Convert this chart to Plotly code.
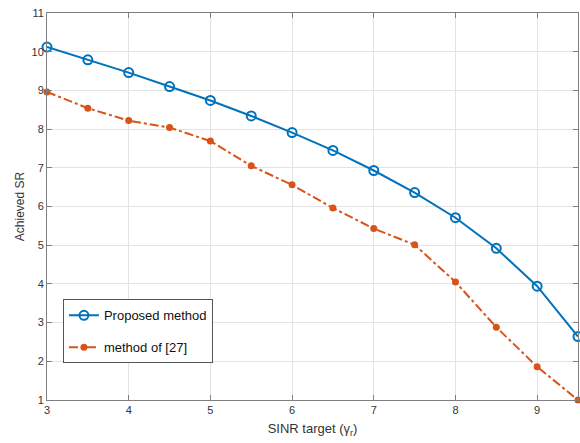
import plotly.graph_objects as go

x_vals = [3, 3.5, 4, 4.5, 5, 5.5, 6, 6.5, 7, 7.5, 8, 8.5, 9, 9.5]
proposed = [10.12, 9.79, 9.46, 9.10, 8.74, 8.34, 7.91, 7.45, 6.93, 6.36, 5.71, 4.92, 3.94, 2.64]
method27 = [8.96, 8.54, 8.22, 8.04, 7.69, 7.05, 6.56, 5.96, 5.43, 5.01, 4.05, 2.88, 1.86, 1.0]
x_ticks = [3, 4, 5, 6, 7, 8, 9]
y_ticks = [1, 2, 3, 4, 5, 6, 7, 8, 9, 10, 11]

fig = go.Figure()
fig.add_trace(go.Scatter(
    x=x_vals, y=proposed, mode="lines+markers", name="Proposed method",
    legendgroup="a",
    line=dict(color="#0072BD", width=2),
    marker=dict(symbol="circle-open", size=9, color="#0072BD", line=dict(width=2)),
    cliponaxis=False,
))
fig.add_trace(go.Scatter(
    x=x_vals, y=method27, mode="lines+markers", name="method of [27]",
    legendgroup="b",
    line=dict(color="#D95319", width=2, dash="dashdot"),
    marker=dict(symbol="circle", size=7, color="#D95319"),
    cliponaxis=False,
))

axis_common = dict(
    showgrid=True, gridcolor="#e3e3e3", gridwidth=1,
    showline=True, linecolor="#7f7f7f", linewidth=1, mirror="ticks",
    ticks="inside", ticklen=5, tickcolor="#7f7f7f",
    tickfont=dict(family="Arial, Liberation Sans, sans-serif", size=11, color="#333333"),
    zeroline=False,
)

fig.update_layout(
    width=580, height=443,
    margin=dict(l=47, r=2, t=13, b=43),
    paper_bgcolor="white", plot_bgcolor="white",
    font=dict(family="Arial, Liberation Sans, sans-serif", size=12, color="#333333"),
    xaxis=dict(range=[3, 9.5], tickvals=x_ticks,
               title=dict(text="SINR target (γ<sub>r</sub>)", standoff=8,
                          font=dict(size=13, color="#333333")),
               **axis_common),
    yaxis=dict(range=[1, 11], tickvals=y_ticks,
               title=dict(text="Achieved SR", standoff=4,
                          font=dict(size=12, color="#333333")),
               **axis_common),
    legend=dict(x=0.03, y=0.26, xanchor="left", yanchor="top",
                bgcolor="white", bordercolor="#555555", borderwidth=1,
                font=dict(size=13, color="#111111"),
                tracegroupgap=12, itemwidth=30),
    showlegend=True,
)

fig.write_html("out.html", config={"displayModeBar": False},
               post_script="document.body.style.margin='0';document.body.style.overflow='hidden';")
